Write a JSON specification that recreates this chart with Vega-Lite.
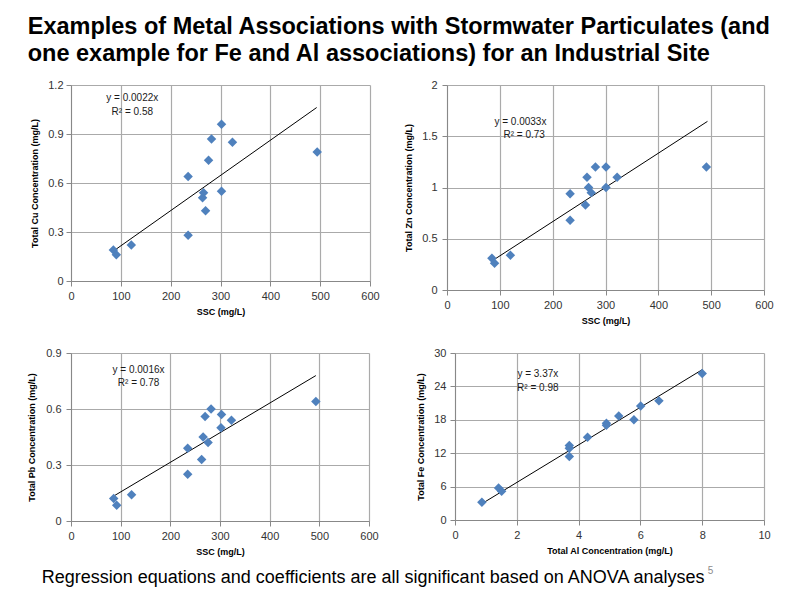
{
  "$schema": "https://vega.github.io/schema/vega-lite/v6.json",
  "padding": {"left": 27, "top": 14, "right": 0, "bottom": 0},
  "background": "white",
  "datasets": {
    "cu": [{"x":85,"y":0.19},{"x":91,"y":0.16},{"x":121,"y":0.22},{"x":235,"y":0.64},{"x":235,"y":0.28},{"x":264,"y":0.51},{"x":266,"y":0.54},{"x":270,"y":0.43},{"x":276,"y":0.74},{"x":282,"y":0.87},{"x":302,"y":0.96},{"x":302,"y":0.55},{"x":324,"y":0.85},{"x":494,"y":0.79}],
    "cufit": [{"x":85,"y":0.183},{"x":493,"y":1.062}],
    "cueq": [{"x":123,"y":1.123,"label":"y = 0.0022x"},{"x":123,"y":1.035,"label":"R² = 0.58"}],
    "zn": [{"x":85,"y":0.31},{"x":90,"y":0.26},{"x":120,"y":0.34},{"x":233,"y":0.94},{"x":233,"y":0.68},{"x":262,"y":0.83},{"x":265,"y":1.1},{"x":268,"y":1.0},{"x":273,"y":0.95},{"x":281,"y":1.2},{"x":301,"y":1.2},{"x":301,"y":1.0},{"x":322,"y":1.1},{"x":491,"y":1.2}],
    "znfit": [{"x":85,"y":0.283},{"x":493,"y":1.645}],
    "zneq": [{"x":139,"y":1.639,"label":"y = 0.0033x"},{"x":146,"y":1.512,"label":"R² = 0.73"}],
    "pb": [{"x":86,"y":0.12},{"x":92,"y":0.085},{"x":122,"y":0.14},{"x":235,"y":0.39},{"x":235,"y":0.25},{"x":263,"y":0.33},{"x":266,"y":0.45},{"x":270,"y":0.56},{"x":276,"y":0.42},{"x":282,"y":0.6},{"x":303,"y":0.57},{"x":302,"y":0.5},{"x":323,"y":0.54},{"x":493,"y":0.64}],
    "pbfit": [{"x":85,"y":0.132},{"x":493,"y":0.779}],
    "pbeq": [{"x":136,"y":0.811,"label":"y = 0.0016x"},{"x":136,"y":0.74,"label":"R² = 0.78"}],
    "fe": [{"x":0.87,"y":3.2},{"x":1.41,"y":5.75},{"x":1.51,"y":5.15},{"x":3.7,"y":13.4},{"x":3.7,"y":12.9},{"x":3.7,"y":11.4},{"x":4.29,"y":14.85},{"x":4.9,"y":17.4},{"x":4.9,"y":17.0},{"x":5.3,"y":18.7},{"x":5.79,"y":18.0},{"x":6.01,"y":20.5},{"x":6.6,"y":21.4},{"x":8.0,"y":26.3}],
    "fefit": [{"x":0.87,"y":2.93},{"x":8.0,"y":27.0}],
    "feeq": [{"x":2.68,"y":26.3,"label":"y = 3.37x"},{"x":2.68,"y":23.8,"label":"R² = 0.98"}]
  },
  "title": {
    "text": ["Examples of Metal Associations with Stormwater Particulates (and", "one example for Fe and Al associations) for an Industrial Site"],
    "anchor": "start", "fontSize": 23.5, "font": "Liberation Sans", "fontWeight": "bold",
    "lineHeight": 27, "offset": 14, "dx": 0, "color": "#000000"
  },
  "vconcat": [
    {
      "title": {"text": "5", "orient": "bottom", "anchor": "start", "dx": 680, "dy": -21, "offset": 0, "fontSize": 10, "fontWeight": "normal", "color": "#8c8c8c", "font": "Liberation Sans"},
      "vconcat": [
        {
          "title": {"text": "Regression equations and coefficients are all significant based on ANOVA analyses", "orient": "bottom", "anchor": "start", "dx": 14, "offset": 12, "fontSize": 18, "fontWeight": "normal", "color": "#000000", "font": "Liberation Sans"},
          "spacing": 21,
          "vconcat": [
            {
              "spacing": 24,
              "hconcat": [
                {
                  "width": 299, "height": 196,
                  "encoding": {
                    "x": {"field": "x", "type": "quantitative", "scale": {"domain": [0, 600], "nice": false}, "axis": {"title": "SSC (mg/L)", "values": [0,100,200,300,400,500,600], "labelPadding": 4, "titlePadding": 6.5}},
                    "y": {"field": "y", "type": "quantitative", "scale": {"domain": [0, 1.2], "nice": false}, "axis": {"title": "Total Cu Concentration (mg/L)", "values": [0,0.3,0.6,0.9,1.2], "format": "~g", "labelPadding": 3, "titlePadding": 8}}
                  },
                  "layer": [
                    {"data": {"name": "cufit"}, "mark": {"type": "line", "color": "#000000", "strokeWidth": 1}, "encoding": {}},
                    {"data": {"name": "cu"}, "mark": {"type": "point", "shape": "diamond", "filled": true, "size": 90, "color": "#4F81BD", "opacity": 1}},
                    {"data": {"name": "cueq"}, "mark": {"type": "text", "fontSize": 10, "color": "#1a1a1a", "font": "Liberation Sans"}, "encoding": {"text": {"field": "label"}}}
                  ]
                },
                {
                  "width": 317, "height": 205,
                  "encoding": {
                    "x": {"field": "x", "type": "quantitative", "scale": {"domain": [0, 600], "nice": false}, "axis": {"title": "SSC (mg/L)", "values": [0,100,200,300,400,500,600], "labelPadding": 4, "titlePadding": 6.5}},
                    "y": {"field": "y", "type": "quantitative", "scale": {"domain": [0, 2], "nice": false}, "axis": {"title": "Total Zn Concentration (mg/L)", "values": [0,0.5,1,1.5,2], "format": "~g", "labelPadding": 5, "titlePadding": 8}}
                  },
                  "layer": [
                    {"data": {"name": "znfit"}, "mark": {"type": "line", "color": "#000000", "strokeWidth": 1}, "encoding": {}},
                    {"data": {"name": "zn"}, "mark": {"type": "point", "shape": "diamond", "filled": true, "size": 90, "color": "#4F81BD", "opacity": 1}},
                    {"data": {"name": "zneq"}, "mark": {"type": "text", "fontSize": 10, "color": "#1a1a1a", "font": "Liberation Sans"}, "encoding": {"text": {"field": "label"}}}
                  ]
                }
              ]
            },
            {
              "spacing": 37,
              "hconcat": [
                {
                  "width": 298, "height": 168,
                  "encoding": {
                    "x": {"field": "x", "type": "quantitative", "scale": {"domain": [0, 600], "nice": false}, "axis": {"title": "SSC (mg/L)", "values": [0,100,200,300,400,500,600], "labelPadding": 4, "titlePadding": 6.5}},
                    "y": {"field": "y", "type": "quantitative", "scale": {"domain": [0, 0.9], "nice": false}, "axis": {"title": "Total Pb Concentration (mg/L)", "values": [0,0.3,0.6,0.9], "format": "~g", "labelPadding": 5, "titlePadding": 9}}
                  },
                  "layer": [
                    {"data": {"name": "pbfit"}, "mark": {"type": "line", "color": "#000000", "strokeWidth": 1}, "encoding": {}},
                    {"data": {"name": "pb"}, "mark": {"type": "point", "shape": "diamond", "filled": true, "size": 90, "color": "#4F81BD", "opacity": 1}},
                    {"data": {"name": "pbeq"}, "mark": {"type": "text", "fontSize": 10, "color": "#1a1a1a", "font": "Liberation Sans"}, "encoding": {"text": {"field": "label"}}}
                  ]
                },
                {
                  "width": 309, "height": 167,
                  "encoding": {
                    "x": {"field": "x", "type": "quantitative", "scale": {"domain": [0, 10], "nice": false}, "axis": {"title": "Total Al Concentration (mg/L)", "values": [0,2,4,6,8,10], "labelPadding": 4, "titlePadding": 6.5}},
                    "y": {"field": "y", "type": "quantitative", "scale": {"domain": [0, 30], "nice": false}, "axis": {"title": "Total Fe Concentration (mg/L)", "values": [0,6,12,18,24,30], "labelPadding": 4, "titlePadding": 8}}
                  },
                  "layer": [
                    {"data": {"name": "fefit"}, "mark": {"type": "line", "color": "#000000", "strokeWidth": 1}, "encoding": {}},
                    {"data": {"name": "fe"}, "mark": {"type": "point", "shape": "diamond", "filled": true, "size": 90, "color": "#4F81BD", "opacity": 1}},
                    {"data": {"name": "feeq"}, "mark": {"type": "text", "fontSize": 10, "color": "#1a1a1a", "font": "Liberation Sans", "align": "center"}, "encoding": {"text": {"field": "label"}}}
                  ]
                }
              ]
            }
          ]
        }
      ]
    }
  ],
  "config": {
    "font": "Liberation Sans",
    "view": {"stroke": null},
    "axis": {
      "labelFont": "Liberation Sans", "labelFontSize": 11, "labelColor": "#333333", "labelFlush": false,
      "titleFont": "Liberation Sans", "titleFontSize": 9, "titleFontWeight": "bold", "titleColor": "#000000",
      "grid": true, "gridColor": "#aaaaaa", "gridWidth": 1.2,
      "domainColor": "#888888", "tickColor": "#888888", "tickSize": 5
    }
  }
}
